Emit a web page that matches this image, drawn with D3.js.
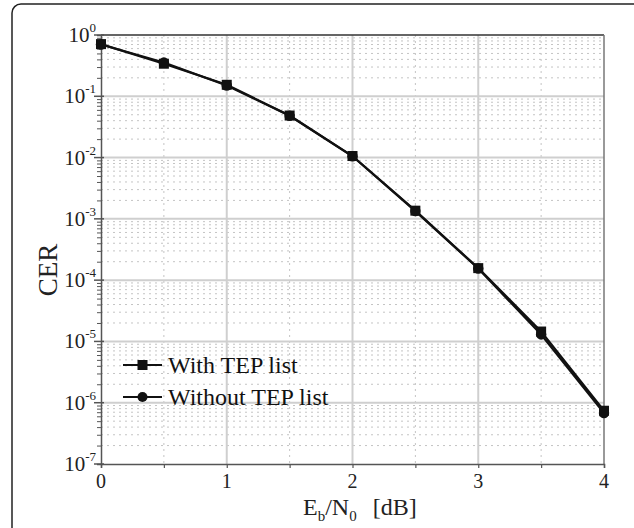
<!DOCTYPE html>
<html>
<head>
<meta charset="utf-8">
<script src="https://cdn.jsdelivr.net/npm/d3@7"></script>
<style>
  body { margin: 0; background: #fff; }
  svg { display: block; font-family: "Liberation Serif", "DejaVu Serif", serif; }
</style>
</head>
<body>
<svg id="chart" width="634" height="528"></svg>
<script>
// Eb/N0 in dB
const snr = [0, 0.5, 1, 1.5, 2, 2.5, 3, 3.5, 4];
// codeword error rate
const cerWithTep = [0.71, 0.34, 0.154, 0.0485, 0.0106, 1.36e-3, 1.57e-4, 1.45e-5, 7.4e-7];
const cerWithoutTep = [0.70, 0.355, 0.150, 0.0480, 0.0105, 1.34e-3, 1.55e-4, 1.3e-5, 6.8e-7];
const xTicks = [0, 1, 2, 3, 4];
const yExponents = [0, -1, -2, -3, -4, -5, -6, -7];
const legendLabels = ["With TEP list", "Without TEP list"];

(function() {

const svg = d3.select("#chart");
const pLeft = 101, pRight = 604, pTop = 35, pBottom = 464;

// rounded frame round the whole figure
svg.append("rect")
    .attr("x", 12).attr("y", 4)
    .attr("width", 640).attr("height", 560)
    .attr("rx", 9)
    .attr("fill", "none")
    .attr("stroke", "#222")
    .attr("stroke-width", 1.5);

const x = d3.scaleLinear().domain([0, 4]).range([pLeft, pRight]);
const y = d3.scaleLog().domain([1e-7, 1]).range([pBottom, pTop]);

// minor grid
const minorY = [];
yExponents.slice(0, -1).forEach(e => {
    for (let k = 2; k <= 9; k++) minorY.push(k * Math.pow(10, e - 1));
});
svg.append("g").selectAll("line").data(minorY).join("line")
    .attr("x1", pLeft).attr("x2", pRight)
    .attr("y1", d => y(d)).attr("y2", d => y(d))
    .attr("stroke", "#c4c4c4").attr("stroke-width", 1)
    .attr("stroke-dasharray", "2,4");
svg.append("g").selectAll("line").data([0.5, 1.5, 2.5, 3.5]).join("line")
    .attr("x1", d => x(d)).attr("x2", d => x(d))
    .attr("y1", pTop).attr("y2", pBottom)
    .attr("stroke", "#c4c4c4").attr("stroke-width", 1)
    .attr("stroke-dasharray", "2,4");

// major grid
svg.append("g").selectAll("line").data(yExponents.slice(1, -1)).join("line")
    .attr("x1", pLeft).attr("x2", pRight)
    .attr("y1", d => y(Math.pow(10, d))).attr("y2", d => y(Math.pow(10, d)))
    .attr("stroke", "#cfcfcf").attr("stroke-width", 2);
svg.append("g").selectAll("line").data([1, 2, 3]).join("line")
    .attr("x1", d => x(d)).attr("x2", d => x(d))
    .attr("y1", pTop).attr("y2", pBottom)
    .attr("stroke", "#cfcfcf").attr("stroke-width", 2);

// plot frame
svg.append("line").attr("x1", pLeft).attr("x2", pRight).attr("y1", pTop).attr("y2", pTop)
    .attr("stroke", "#333").attr("stroke-width", 1.5);
svg.append("line").attr("x1", pRight).attr("x2", pRight).attr("y1", pTop).attr("y2", pBottom)
    .attr("stroke", "#777").attr("stroke-width", 1.5);

// x axis
const xAxis = svg.append("g")
    .attr("transform", `translate(0,${pBottom})`)
    .call(d3.axisBottom(x).tickValues(d3.range(0, 4.01, 0.5)).tickSize(4).tickFormat(""));
xAxis.select(".domain").attr("stroke", "#555").attr("stroke-width", 1.5);
xAxis.selectAll(".tick line").attr("stroke", "#555").attr("stroke-width", 1.2);
svg.append("g").selectAll("text").data(xTicks).join("text")
    .attr("x", d => x(d)).attr("y", pBottom + 24)
    .attr("text-anchor", "middle")
    .attr("font-size", 20)
    .attr("fill", "#222")
    .text(d => d);

// y axis
const yAxis = svg.append("g")
    .attr("transform", `translate(${pLeft},0)`)
    .call(d3.axisLeft(y).tickValues(minorY).tickSize(4).tickFormat(""));
yAxis.select(".domain").attr("stroke", "#555").attr("stroke-width", 1.5);
yAxis.selectAll(".tick line").attr("stroke", "#555").attr("stroke-width", 1);
svg.append("g").selectAll("line").data(yExponents).join("line")
    .attr("x1", pLeft - 7).attr("x2", pLeft + 3)
    .attr("y1", d => y(Math.pow(10, d))).attr("y2", d => y(Math.pow(10, d)))
    .attr("stroke", "#555").attr("stroke-width", 1.5);
const yLab = svg.append("g").selectAll("text").data(yExponents).join("text")
    .attr("x", pLeft - 5).attr("y", d => y(Math.pow(10, d)) + 7)
    .attr("text-anchor", "end")
    .attr("fill", "#222");
yLab.append("tspan").attr("font-size", 21).text("10");
yLab.append("tspan").attr("font-size", 13).attr("dy", -10).text(d => d === 0 ? "0" : "-" + Math.abs(d));

// axis titles
svg.append("text")
    .attr("transform", "translate(57,270) rotate(-90)")
    .attr("text-anchor", "middle")
    .attr("font-size", 27)
    .attr("fill", "#222")
    .text("CER");
const xt = svg.append("text")
    .attr("x", 303).attr("y", 515)
    .attr("font-size", 24)
    .attr("fill", "#222");
xt.append("tspan").text("E");
xt.append("tspan").attr("font-size", 15).attr("dy", 6).text("b");
xt.append("tspan").attr("dy", -6).text("/N");
xt.append("tspan").attr("font-size", 15).attr("dy", 6).text("0");
xt.append("tspan").attr("dy", -6).attr("dx", 16).text("[dB]");

// series
const line = d3.line().x((d, i) => x(snr[i])).y(d => y(d));
[cerWithTep, cerWithoutTep].forEach(s => {
    svg.append("path").datum(s)
        .attr("d", line)
        .attr("fill", "none")
        .attr("stroke", "#111")
        .attr("stroke-width", 2.2);
});
svg.append("g").selectAll("rect").data(cerWithTep).join("rect")
    .attr("x", (d, i) => x(snr[i]) - 5).attr("y", d => y(d) - 5)
    .attr("width", 10).attr("height", 10)
    .attr("fill", "#111");
svg.append("g").selectAll("circle").data(cerWithoutTep).join("circle")
    .attr("cx", (d, i) => x(snr[i])).attr("cy", d => y(d))
    .attr("r", 5.2)
    .attr("fill", "#111");

// legend
const lg = svg.append("g").selectAll("g").data(legendLabels).join("g")
    .attr("transform", (d, i) => `translate(123,${365 + i * 32})`);
lg.append("line").attr("x1", 0).attr("x2", 39)
    .attr("stroke", "#111").attr("stroke-width", 2);
lg.filter((d, i) => i === 0).append("rect")
    .attr("x", 14.5).attr("y", -5).attr("width", 10).attr("height", 10).attr("fill", "#111");
lg.filter((d, i) => i === 1).append("circle")
    .attr("cx", 19.5).attr("cy", 0).attr("r", 5).attr("fill", "#111");
lg.append("text")
    .attr("x", 45).attr("y", 8)
    .attr("font-size", 24)
    .attr("fill", "#111")
    .text(d => d);

})();
</script>
</body>
</html>
